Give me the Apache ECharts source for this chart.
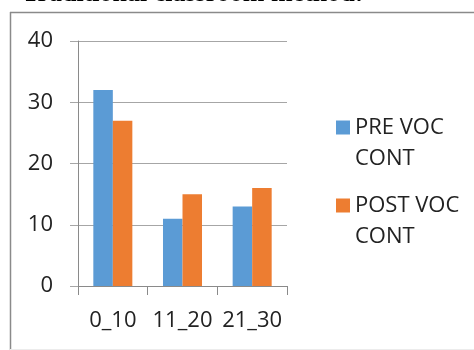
<!DOCTYPE html>
<html>
<head>
<meta charset="utf-8">
<script src="https://cdn.jsdelivr.net/npm/echarts@6/dist/echarts.min.js"></script>
<style>
  html, body { margin: 0; padding: 0; background: #fff; }
  #chart { width: 474px; height: 350px; }
</style>
</head>
<body>
<div id="chart"></div>
<script>
// Vocabulary content scores grouped by score band
var categories = ['0_10', '11_20', '21_30'];
var preVoc = [32, 11, 13];
var postVoc = [27, 15, 16];
var seriesNames = ['PRE VOC CONT', 'POST VOC CONT'];
var yTicks = { min: 0, max: 40, step: 10 };
var heading = 'Traditional classroom method:';

var labelFont = 'Open Sans';
var chart = echarts.init(document.getElementById('chart'), null, { renderer: 'canvas' });

chart.setOption({
  animation: false,
  backgroundColor: '#fff',
  title: {
    text: heading,
    left: 22,
    top: -19,
    padding: 0,
    textStyle: {
      fontFamily: 'Liberation Serif',
      fontWeight: 'bold',
      fontSize: 26,
      color: '#000'
    }
  },
  graphic: [
    // frame around the chart area
    { type: 'line', shape: { x1: 10, y1: 12.5, x2: 474, y2: 12.5 }, style: { stroke: '#8a8a8a', lineWidth: 1.5 } },
    { type: 'line', shape: { x1: 10.5, y1: 12, x2: 10.5, y2: 350 }, style: { stroke: '#8a8a8a', lineWidth: 1.5 } },
    { type: 'line', shape: { x1: 10, y1: 349.5, x2: 474, y2: 349.5 }, style: { stroke: '#ececec', lineWidth: 1 } }
  ],
  legend: {
    orient: 'vertical',
    left: 331,
    top: 76,
    itemWidth: 14,
    itemHeight: 14,
    itemGap: -15,
    icon: 'rect',
    data: seriesNames,
    // blank first line keeps the swatch level with the first text line
    formatter: function (name) {
      return '\n' + name.replace(' CONT', '\nCONT');
    },
    textStyle: {
      fontFamily: labelFont,
      fontSize: 22,
      color: '#222',
      lineHeight: 31
    },
    itemStyle: { borderWidth: 0 }
  },
  grid: {
    left: 78,
    right: 187,
    top: 41,
    bottom: 64,
    containLabel: false
  },
  xAxis: {
    type: 'category',
    data: categories,
    axisLine: { lineStyle: { color: '#8a8a8a', width: 1 } },
    axisTick: { show: true, length: 9, alignWithLabel: false, lineStyle: { color: '#8a8a8a' } },
    axisLabel: {
      interval: 0,
      margin: 24,
      fontFamily: labelFont,
      fontSize: 22,
      color: '#222'
    }
  },
  yAxis: {
    type: 'value',
    min: yTicks.min,
    max: yTicks.max,
    interval: yTicks.step,
    axisLine: { show: true, lineStyle: { color: '#8a8a8a', width: 1 } },
    axisTick: { show: true, length: 8, lineStyle: { color: '#a6a6a6' } },
    splitLine: { show: true, lineStyle: { color: '#a6a6a6', width: 1 } },
    axisLabel: {
      margin: 25,
      fontFamily: labelFont,
      fontSize: 22,
      color: '#222'
    }
  },
  series: [
    {
      name: seriesNames[0],
      type: 'bar',
      data: preVoc,
      barGap: '0%',
      barCategoryGap: '44%',
      itemStyle: { color: '#5b9bd5' }
    },
    {
      name: seriesNames[1],
      type: 'bar',
      data: postVoc,
      barGap: '0%',
      barCategoryGap: '44%',
      itemStyle: { color: '#ed7d31' }
    }
  ]
});
</script>
</body>
</html>
